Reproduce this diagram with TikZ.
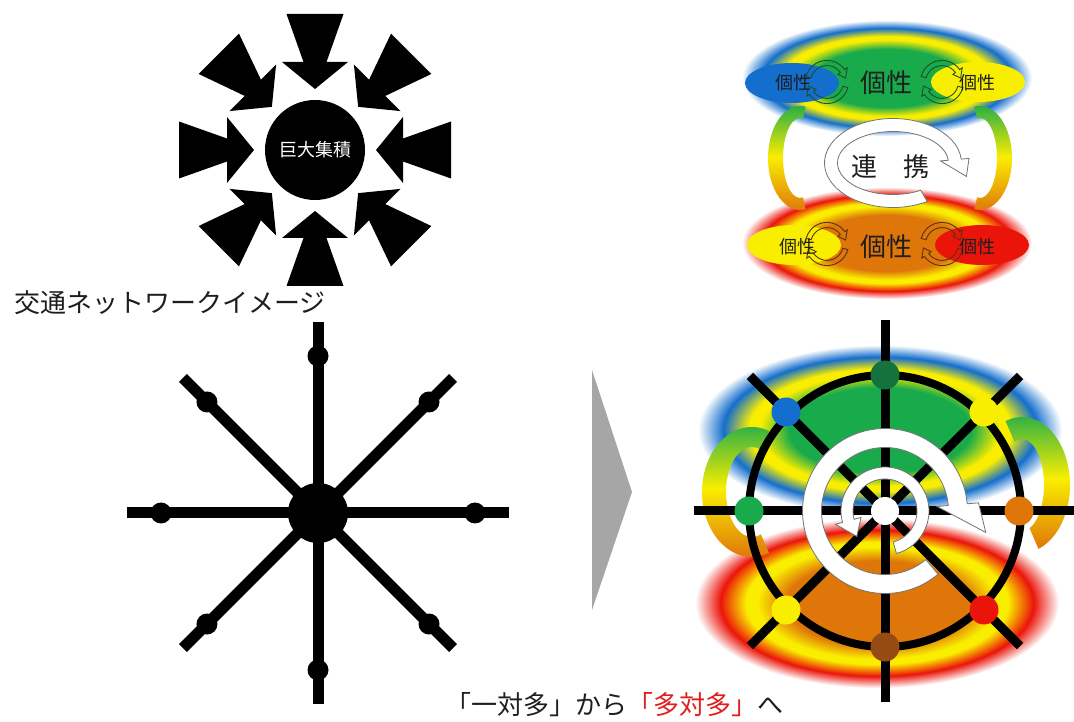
\documentclass[tikz,border=0pt]{standalone}
\usepackage{fontspec}
\setmainfont{Noto Sans CJK JP}
\usetikzlibrary{calc, positioning, shapes.geometric}

\definecolor{glowgreen}{RGB}{25,170,75}
\definecolor{glowyellow}{RGB}{250,238,0}
\definecolor{glowblue}{RGB}{20,110,205}
\definecolor{glowred}{RGB}{235,20,10}
\definecolor{gloworange}{RGB}{222,118,10}
\definecolor{pinegreen}{RGB}{20,115,60}
\definecolor{rustbrown}{RGB}{150,75,20}
\definecolor{shaftgray}{RGB}{166,166,166}
\definecolor{inkgray}{RGB}{30,30,30}
\definecolor{mottored}{RGB}{225,30,30}
\definecolor{ringgreen}{RGB}{30,80,40}
\definecolor{ringbrown}{RGB}{90,50,20}

% soft halos: green core, yellow band, blue rim / orange core, yellow band, red rim
\pgfdeclareradialshading{glowcool}{\pgfpoint{0bp}{0bp}}{%
  color(0bp)=(glowgreen); color(12.5bp)=(glowgreen); color(16.5bp)=(glowyellow);
  color(18bp)=(glowyellow); color(21.5bp)=(glowblue); color(25bp)=(white);
  color(50bp)=(white)}
\pgfdeclareradialshading{glowwarm}{\pgfpoint{0bp}{0bp}}{%
  color(0bp)=(gloworange); color(12.5bp)=(gloworange); color(16.5bp)=(glowyellow);
  color(18bp)=(glowyellow); color(21.5bp)=(glowred); color(25bp)=(white);
  color(50bp)=(white)}

\tikzset{
  core/.style={
    circle, fill=black, minimum size=100pt, inner sep=0pt,
    text=white, font=\fontsize{18pt}{20pt}\selectfont
  },
  spoke/.style={line width=11pt},
  hubdot/.style={circle, fill=black, minimum size=60pt, inner sep=0pt},
  stopdot/.style={circle, fill=black, minimum size=21pt, inner sep=0pt},
  wheelspoke/.style={line width=9pt},
  rim/.style={line width=8pt},
  wheeldot/.style={circle, minimum size=29pt, inner sep=0pt},
  leaf/.style={ellipse, minimum width=94pt, minimum height=40pt, inner sep=0pt},
  sidearc/.style={top color=glowgreen, bottom color=gloworange, middle color=glowyellow},
  whitearrow/.style={fill=white, draw=black!55, line width=0.8pt},
  iconarrow/.style={draw=#1, line width=0.9pt},
  tag/.style={inner sep=0pt, text=inkgray, font=\fontsize{18pt}{20pt}\selectfont},
  bigtag/.style={inner sep=0pt, text=inkgray, font=\fontsize{26pt}{28pt}\selectfont},
  caption/.style={inner sep=0pt, text=inkgray, font=\fontsize{26pt}{28pt}\selectfont}
}

% curved band with a pointed head:
% [style]{centre}{x radius}{y radius}{half width}{start}{end}{tip angle}{tip offset}
\newcommand{\bandarrow}[9][]{%
  \path[#1] (#2) ++(#6:{#3+#5} and {#4+#5})
    arc[start angle=#6, end angle=#7, x radius={#3+#5}, y radius={#4+#5}]
    -- ($(#2)+(#7:{#3+2.2*#5} and {#4+2.2*#5})$)
    -- ($(#2)+(#8:{#3+#9} and {#4+#9})$)
    -- ($(#2)+(#7:{#3-2.2*#5} and {#4-2.2*#5})$)
    -- ($(#2)+(#7:{#3-#5} and {#4-#5})$)
    arc[start angle=#7, end angle=#6, x radius={#3-#5}, y radius={#4-#5}]
    -- cycle;}

\begin{document}
\begin{tikzpicture}[x=1pt, y=1pt]
\useasboundingbox (0,0) rectangle (1074,721);

% ── Concentration: eight arrows into one core ───────────────────────────────
\node[core] (core) at (315,571) {巨大集積};
\begin{scope}[shift={(core.center)}]
  \foreach \a in {0,45,...,315}
    \fill[rotate=\a] (136,28.5) -- (88,11.5) -- (88,33) -- (61,0)
      -- (88,-33) -- (88,-11.5) -- (136,-28.5) -- cycle;
\end{scope}

\node[caption, anchor=west] (title) at (14,418) {交通ネットワークイメージ};

% ── Star network ────────────────────────────────────────────────────────────
\node[hubdot] (hub) at (318,208) {};
\foreach \a [count=\i] in {0,45,...,315} {
  \coordinate (end\i) at ($(hub.center)+(\a:191)$);
  \draw[spoke] (hub.center) -- (end\i);
  \node[stopdot] (stop\i) at ($(hub.center)+(\a:157)$) {};
}

% ── Transition wedge ────────────────────────────────────────────────────────
\fill[shaftgray] (592,351) -- (592,111) -- (632,229) -- cycle;

% ── Wheel network ───────────────────────────────────────────────────────────
\coordinate (axle) at (885,210);
\shade[shading=glowwarm] (877,118) ellipse[x radius=182, y radius=85];
\shade[shading=glowcool] (880,291) ellipse[x radius=182, y radius=85];

\coordinate (loopL) at (752,229);
\coordinate (loopR) at (1022,236);
\shade[sidearc] (loopL) ++(70:50 and 65)
  arc[start angle=70, end angle=290, x radius=50, y radius=65]
  -- ($(loopL)+(290:26 and 45)$)
  arc[start angle=290, end angle=70, x radius=26, y radius=45] -- cycle;
\shade[sidearc] (loopR) ++(110:48 and 68)
  arc[start angle=110, end angle=-70, x radius=48, y radius=68]
  -- ($(loopR)+(-70:22 and 46)$)
  arc[start angle=-70, end angle=110, x radius=22, y radius=46] -- cycle;

\foreach \a [count=\i] in {0,45,...,315} {
  \coordinate (rimend\i) at ($(axle)+(\a:191)$);
  \draw[wheelspoke] (axle) -- (rimend\i);
}
\draw[rim] (axle) circle[radius=136];
\foreach \a/\r/\c [count=\i] in {0/134/gloworange, 45/140/glowyellow,
    90/136/pinegreen, 135/140/glowblue, 180/136/glowgreen,
    225/140/glowyellow, 270/136/rustbrown, 315/140/glowred}
  \node[wheeldot, fill=\c] (stn\i) at ($(axle)+(\a:\r)$) {};

\bandarrow[whitearrow]{axle}{73}{73}{9.5}{-50}{-355}{-372}{30}
\bandarrow[whitearrow]{axle}{38}{38}{6}{-75}{195}{222}{0}
\node[circle, fill=white, minimum size=28pt, inner sep=0pt] (axlecap) at (axle) {};

% ── Cooperation between two regions ─────────────────────────────────────────
\coordinate (swirl) at (893,558);
\shade[shading=glowcool] (887,643) ellipse[x radius=145, y radius=58];
\shade[shading=glowwarm] (887,478) ellipse[x radius=145, y radius=56];

\coordinate (bendL) at (800,563);
\coordinate (bendR) at (980,563);
\shade[sidearc] (bendL) ++(80:32 and 52)
  arc[start angle=80, end angle=280, x radius=32, y radius=52]
  -- ($(bendL)+(280:17 and 40)$)
  arc[start angle=280, end angle=80, x radius=17, y radius=40] -- cycle;
\shade[sidearc] (bendR) ++(100:32 and 52)
  arc[start angle=100, end angle=-100, x radius=32, y radius=52]
  -- ($(bendR)+(-100:17 and 40)$)
  arc[start angle=-100, end angle=100, x radius=17, y radius=40] -- cycle;

\node[leaf, fill=glowblue] (leafTL) at (792,638) {};
\node[leaf, fill=glowyellow] (leafTR) at (978,639) {};
\node[leaf, fill=glowyellow] (leafBL) at (794,476) {};
\node[leaf, fill=glowred] (leafBR) at (982,476) {};

\coordinate (iconTL) at (827,639);
\coordinate (iconTR) at (942,639);
\coordinate (iconBL) at (827,477);
\coordinate (iconBR) at (942,477);
\foreach \p/\c in {iconTL/ringgreen, iconTR/ringgreen, iconBL/ringbrown, iconBR/ringbrown} {
  \bandarrow[iconarrow=\c]{\p}{19}{19}{2.6}{165}{35}{12}{0}
  \bandarrow[iconarrow=\c]{\p}{19}{19}{2.6}{-15}{-145}{-168}{0}
}

\node[tag] (traitTL) at (793,638) {個性};
\node[tag] (traitTR) at (977,638) {個性};
\node[tag] (traitBL) at (797,474) {個性};
\node[tag] (traitBR) at (977,474) {個性};
\node[bigtag] (groupT) at (886,638) {個性};
\node[bigtag] (groupB) at (886,474) {個性};

\bandarrow[whitearrow]{swirl}{62}{38}{6.5}{-60}{-355}{-375}{14}
\node[bigtag] (link) at (890,554) {連　携};

% ── Caption ─────────────────────────────────────────────────────────────────
\node[caption] (motto) at (614,16) {「一対多」から\textcolor{mottored}{「多対多」}へ};

\end{tikzpicture}
\end{document}
